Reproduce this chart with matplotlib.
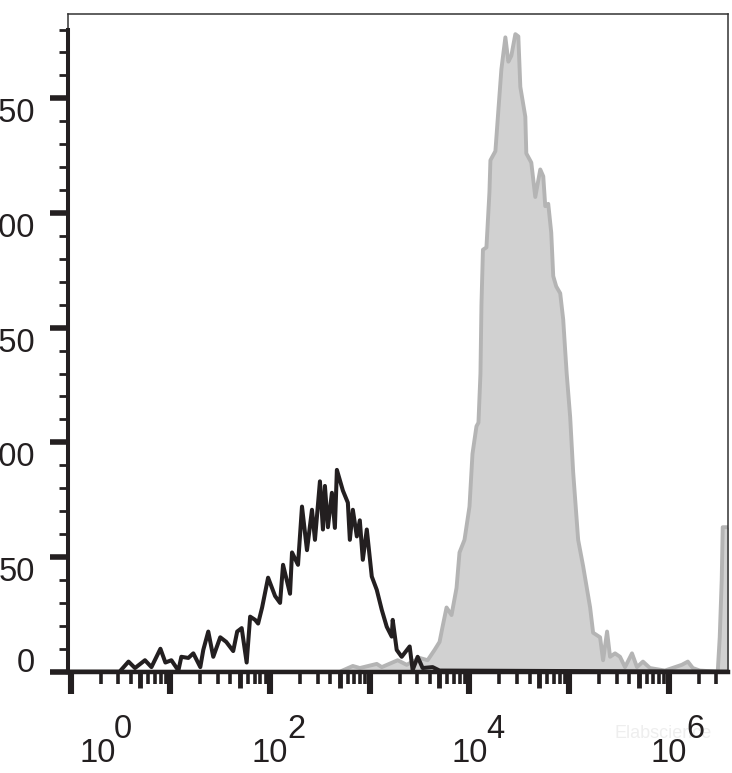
import matplotlib
matplotlib.use('Agg')
import matplotlib.pyplot as plt
from matplotlib.ticker import FixedLocator, MultipleLocator, NullFormatter

# black histogram (control), x given as log10 of intensity
blackLog = [0.0, 0.49, 0.58, 0.645, 0.745, 0.81, 0.90, 0.95, 1.01, 1.08, 1.11, 1.18, 1.23, 1.30,
	1.33, 1.38, 1.43, 1.50, 1.56, 1.63, 1.67, 1.715, 1.765, 1.80, 1.85, 1.88, 1.92, 1.98, 2.05,
	2.10, 2.13, 2.20, 2.22, 2.28, 2.32, 2.37, 2.42, 2.45, 2.50, 2.53, 2.55, 2.58, 2.62, 2.65,
	2.67, 2.73, 2.78, 2.80, 2.83, 2.87, 2.90, 2.93, 2.97, 3.02, 3.07, 3.12, 3.17, 3.22, 3.23,
	3.27, 3.32, 3.40, 3.43, 3.48, 3.53, 3.63, 3.70, 6.6]
blackCounts = [0, 0, 4.4, 1.6, 5, 2, 10, 4, 5, 0.5, 6.5, 6, 8, 2,
	9.5, 17.5, 6.5, 15, 13, 9, 17.5, 19, 4, 24, 22.6, 21, 28, 41, 33,
	30, 46.6, 34, 52, 46.6, 72, 53, 70.6, 57.5, 83, 62, 81, 63, 78, 62.7,
	88, 79, 73.7, 57.5, 70.6, 59, 66, 48.8, 62, 41.5, 35.7, 27, 19.6, 15.3, 22.6,
	9.5, 6.5, 11, 0.7, 6.5, 1.6, 2, 0.5, 0]

# gray filled histogram (stained)
grayLog = [0.0, 2.70, 2.83, 2.90, 3.07, 3.12, 3.28, 3.37, 3.50, 3.58, 3.65, 3.70, 3.73, 3.77,
	3.82, 3.87, 3.90, 3.95, 4.00, 4.03, 4.07, 4.09, 4.11, 4.12, 4.135, 4.17, 4.20, 4.21, 4.26,
	4.29, 4.32, 4.36, 4.39, 4.42, 4.46, 4.49, 4.51, 4.56, 4.57, 4.62, 4.66, 4.71, 4.74, 4.76,
	4.79, 4.82, 4.84, 4.87, 4.91, 4.94, 4.96, 4.975, 5.01, 5.04, 5.09, 5.14, 5.21, 5.24, 5.31,
	5.34, 5.38, 5.41, 5.46, 5.51, 5.56, 5.63, 5.68, 5.74, 5.81, 5.96, 6.13, 6.19, 6.24, 6.31,
	6.49, 6.51, 6.53, 6.54, 6.6]
grayCounts = [0, 0, 2.5, 1.6, 3.4, 2, 5, 3, 6, 5, 9.5, 13, 19.6, 28,
	24.7, 36.5, 52, 57.5, 72, 95, 107, 108.6, 130, 160, 184, 185, 209, 223, 227,
	245, 262.7, 276.6, 266, 268.6, 278, 277, 255, 242, 226, 222, 207, 219, 216, 203,
	204, 191.5, 172.5, 168, 165, 153.6, 140, 130, 111, 87, 57.5, 46, 28, 17, 15,
	5, 17.5, 6.5, 8, 6.5, 2, 8, 2, 4.4, 1.6, 0.5, 3, 4.4, 1.6, 0.5,
	0, 15, 40, 63, 63]

yTicks = [0, 50, 100, 150, 200, 250]
yLabels = ['0', '50', '100', '150', '200', '250']
decades = [0, 1, 2, 3, 4, 5, 6]
labelDecades = [0, 2, 4, 6]

ink = '#231f20'
plt.rcParams['font.family'] = ['Liberation Sans', 'DejaVu Sans']

fig = plt.figure(figsize=(7.32, 7.73), dpi=100)
pos = [68 / 732, 1 - 671.7 / 773, (728 - 68) / 732, (671.7 - 13.5) / 773]
ax = fig.add_axes(pos)

blackX = [10.0 ** v for v in blackLog]
grayX = [10.0 ** v for v in grayLog]

ax.fill_between(grayX, grayCounts, 0, color='#d1d1d1', lw=0, zorder=1)
ax.plot(grayX, grayCounts, color='#b4b4b4', lw=2.8, zorder=2)
ax.plot(blackX, blackCounts, color=ink, lw=2.9, zorder=3)

ax.set_xscale('log')
ax.set_xlim(10 ** -0.027, 10 ** 6.593)
ax.set_ylim(0, 287)

# spines: thick left/bottom, thin top/right
for s in ['top', 'right']:
	ax.spines[s].set_linewidth(1.1)
	ax.spines[s].set_color('#333333')
ax.spines['bottom'].set_linewidth(3.2)
ax.spines['bottom'].set_color(ink)
ax.spines['left'].set_linewidth(2.9)
ax.spines['left'].set_color(ink)
ax.spines['left'].set_bounds(0, 280)

# x ticks: decades long, 5x medium, others short
majorLocs = [10.0 ** d for d in decades] + [5 * 10.0 ** d for d in decades[:-1]]
minorLocs = [m * 10.0 ** d for d in decades for m in (2, 3, 4, 6, 7, 8, 9)]
ax.xaxis.set_major_locator(FixedLocator(majorLocs))
ax.xaxis.set_minor_locator(FixedLocator(minorLocs))
ax.xaxis.set_minor_formatter(NullFormatter())
ax.tick_params(axis='x', which='major', direction='out', length=15.8, width=4.4, color=ink, labelbottom=False)
ax.tick_params(axis='x', which='minor', direction='out', length=8.6, width=2.6, color=ink)
for t in ax.xaxis.get_major_ticks()[len(decades):]:
	t.tick1line.set_markersize(11.5)
	t.tick1line.set_markeredgewidth(3.5)

# y ticks
ax.yaxis.set_major_locator(FixedLocator(yTicks))
ax.yaxis.set_minor_locator(MultipleLocator(10))
ax.set_yticklabels(yLabels)
ax.tick_params(axis='y', which='major', direction='out', length=13, width=4, color=ink,
	labelsize=23.5, labelcolor=ink, pad=10.8)
ax.tick_params(axis='y', which='minor', direction='out', length=6.5, width=2, color=ink)
for lbl in ax.get_yticklabels():
	if lbl.get_text() == '0':
		lbl.set_va('baseline')
	else:
		lbl.set_va('top')

# x labels as 10 with a raised exponent
for d in labelDecades:
	shift = 26.5 if d == 0 else 0
	ax.annotate('10', xy=(10.0 ** d, 0), xycoords=('data', 'axes fraction'), xytext=(shift, -90),
		textcoords='offset pixels', ha='center', va='baseline', fontsize=23.5, color=ink, annotation_clip=False)
	ax.annotate(str(d), xy=(10.0 ** d, 0), xycoords=('data', 'axes fraction'), xytext=(shift + 17, -66),
		textcoords='offset pixels', ha='left', va='baseline', fontsize=23.5, color=ink, annotation_clip=False)

# thin left frame above the thick axis line
frame = fig.add_axes(pos, zorder=-1)
frame.set_xticks([])
frame.set_yticks([])
for s in ['top', 'right', 'bottom']:
	frame.spines[s].set_visible(False)
frame.spines['left'].set_linewidth(1.1)
frame.spines['left'].set_color('#333333')
ax.set_zorder(1)
ax.patch.set_alpha(0)

fig.text(0.84, 0.045, 'Elabscience', fontsize=13, color='#eeeeee', ha='left', zorder=0)

fig.savefig('out.png', dpi=100)
